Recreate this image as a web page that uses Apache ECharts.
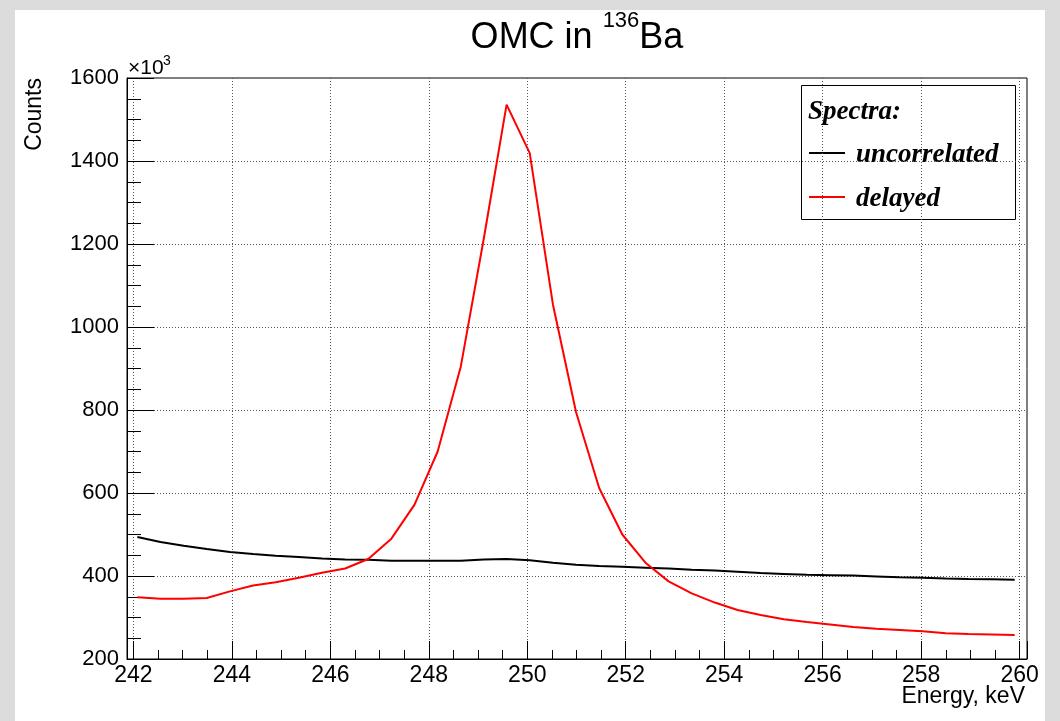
<!DOCTYPE html>
<html>
<head>
<meta charset="utf-8">
<script src="https://cdn.jsdelivr.net/npm/echarts@6/dist/echarts.min.js"></script>
<style>
  html, body { margin: 0; padding: 0; background: #dcdcdc; }
  #pad { position: absolute; left: 15px; top: 10px; width: 1030px; height: 711px; background: #ffffff; }
  #chart { position: absolute; left: 0; top: 0; width: 1060px; height: 721px; }
</style>
</head>
<body>
<div id="pad"></div>
<div id="chart"></div>
<script>
// Bin centres, keV
const energy = [242.08, 242.55, 243.02, 243.49, 243.96, 244.43, 244.89, 245.36, 245.83, 246.30,
                246.77, 247.24, 247.71, 248.18, 248.65, 249.12, 249.58, 250.05, 250.52, 250.99,
                251.46, 251.93, 252.40, 252.87, 253.34, 253.81, 254.27, 254.74, 255.21, 255.68,
                256.15, 256.62, 257.09, 257.56, 258.03, 258.50, 258.96, 259.43, 259.90];

// Counts per bin, in units of 10^3
const uncorrelated = [494, 482, 473, 465, 458, 453, 449, 446, 442, 440,
                      439, 437, 437, 437, 437, 440, 441, 438, 432, 427,
                      424, 422, 420, 418, 415, 413, 410, 407, 405, 403,
                      402, 401, 399, 397, 396, 394, 393, 392, 391];

const delayed = [349, 345, 345, 347, 363, 377, 385, 396, 408, 418,
                 441, 490, 572, 700, 905, 1215, 1536, 1419, 1055, 795,
                 612, 500, 432, 387, 358, 336, 318, 306, 296, 289,
                 283, 277, 273, 270, 267, 262, 260, 259, 258];

const seriesNames = ['uncorrelated', 'delayed'];
const seriesColors = ['#000000', '#ff0000'];

const toPairs = vals => energy.map((e, i) => [e, vals[i]]);

const SANS = '"Liberation Sans", Arial, Helvetica, sans-serif';
const SERIF = '"Liberation Serif", "Times New Roman", serif';

const chart = echarts.init(document.getElementById('chart'), null, { renderer: 'canvas' });

const gridLeft = 127, gridTop = 78, gridRight = 33, gridBottom = 62;
const plainNumber = v => String(Math.round(v * 100) / 100);
const legendFont = 'italic bold 27px ' + SERIF;

chart.setOption({
  backgroundColor: 'transparent',
  animation: false,
  title: {
    text: 'OMC in {sup|136}Ba',
    left: 577,
    top: 10,
    padding: 0,
    textAlign: 'center',
    textStyle: {
      fontFamily: SANS,
      fontSize: 36,
      fontWeight: 'normal',
      color: '#000',
      lineHeight: 56,
      rich: {
        sup: { fontFamily: SANS, fontSize: 22, color: '#000', lineHeight: 22, verticalAlign: 'top' }
      }
    }
  },
  grid: {
    left: gridLeft, top: gridTop, right: gridRight, bottom: gridBottom,
    show: true, borderColor: '#000', borderWidth: 1, backgroundColor: '#fff'
  },
  xAxis: {
    type: 'value',
    min: 241.87,
    max: 260.15,
    splitNumber: 9,
    minInterval: 2,
    maxInterval: 2,
    axisLine: { show: true, onZero: false, lineStyle: { color: '#000', width: 1 } },
    axisTick: { show: true, inside: true, length: 18, lineStyle: { color: '#000', width: 1 } },
    minorTick: { show: true, splitNumber: 4, length: 9, lineStyle: { color: '#000', width: 1 } },
    axisLabel: {
      show: true, margin: 5, color: '#000', fontFamily: SANS, fontSize: 23,
      showMinLabel: false, showMaxLabel: false, formatter: plainNumber
    },
    splitLine: { show: true, showMinLine: false, showMaxLine: false, lineStyle: { color: '#555', type: [1, 2], width: 1 } }
  },
  yAxis: {
    type: 'value',
    min: 200,
    max: 1600,
    interval: 200,
    axisLine: { show: true, onZero: false, lineStyle: { color: '#000', width: 1 } },
    axisTick: { show: true, inside: true, length: 27, lineStyle: { color: '#000', width: 1 } },
    minorTick: { show: true, splitNumber: 4, length: 14, lineStyle: { color: '#000', width: 1 } },
    axisLabel: { show: true, margin: 8, color: '#000', fontFamily: SANS, fontSize: 22, formatter: plainNumber },
    splitLine: { show: true, showMinLine: false, showMaxLine: false, lineStyle: { color: '#555', type: [1, 2], width: 1 } }
  },
  series: [
    {
      name: seriesNames[0], type: 'line', data: toPairs(uncorrelated),
      showSymbol: false, symbol: 'none',
      lineStyle: { color: seriesColors[0], width: 2 }, z: 3
    },
    {
      name: seriesNames[1], type: 'line', data: toPairs(delayed),
      showSymbol: false, symbol: 'none',
      lineStyle: { color: seriesColors[1], width: 2 }, z: 4
    }
  ],
  graphic: [
    // axis multiplier, x10^3
    {
      type: 'text', x: 128, y: 68, z: 10,
      style: { text: '×10', fill: '#000', font: '21px ' + SANS, align: 'left', verticalAlign: 'middle' }
    },
    {
      type: 'text', x: 163, y: 61, z: 10,
      style: { text: '3', fill: '#000', font: '14px ' + SANS, align: 'left', verticalAlign: 'middle' }
    },
    // y axis title
    {
      type: 'text', x: 35, y: 78, rotation: Math.PI / 2, z: 10,
      style: { text: 'Counts', fill: '#000', font: '23px ' + SANS, align: 'right', verticalAlign: 'middle' }
    },
    // x axis title
    {
      type: 'text', x: 1025, y: 697, z: 10,
      style: { text: 'Energy, keV', fill: '#000', font: '23px ' + SANS, align: 'right', verticalAlign: 'middle' }
    },
    // legend box
    {
      type: 'group', z: 20,
      children: [
        { type: 'rect', shape: { x: 801.5, y: 85.5, width: 214, height: 134 },
          style: { fill: '#fff', stroke: '#000', lineWidth: 1 } },
        { type: 'text', x: 808, y: 112,
          style: { text: 'Spectra:', fill: '#000', font: legendFont, align: 'left', verticalAlign: 'middle' } },
        { type: 'line', shape: { x1: 809, y1: 153, x2: 845, y2: 153 },
          style: { stroke: seriesColors[0], lineWidth: 2 } },
        { type: 'text', x: 856, y: 155,
          style: { text: seriesNames[0], fill: '#000', font: legendFont, align: 'left', verticalAlign: 'middle' } },
        { type: 'line', shape: { x1: 809, y1: 197, x2: 845, y2: 197 },
          style: { stroke: seriesColors[1], lineWidth: 2 } },
        { type: 'text', x: 856, y: 199,
          style: { text: seriesNames[1], fill: '#000', font: legendFont, align: 'left', verticalAlign: 'middle' } }
      ]
    }
  ]
});
</script>
</body>
</html>
